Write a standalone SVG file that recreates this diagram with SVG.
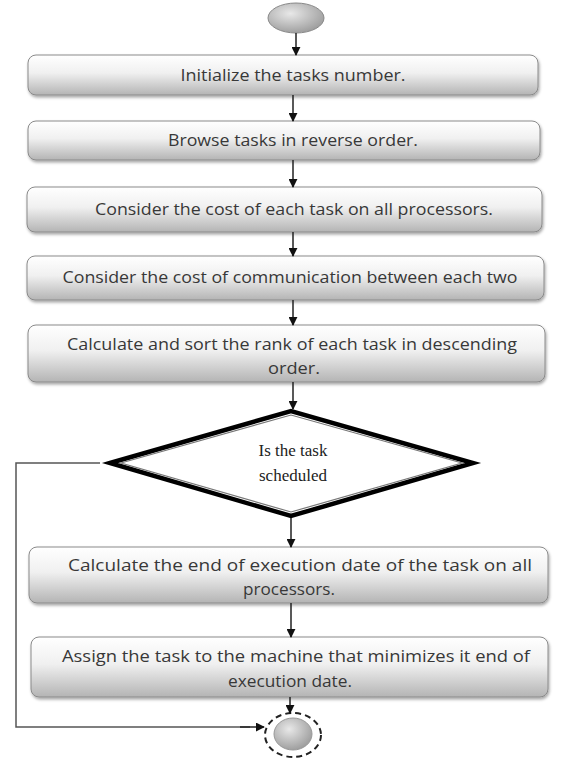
<svg xmlns="http://www.w3.org/2000/svg" width="571" height="758" viewBox="0 0 571 758">
<defs>
<linearGradient id="boxg" x1="0" y1="0" x2="0" y2="1">
<stop offset="0" stop-color="#ffffff"/>
<stop offset="0.45" stop-color="#f0f0f0"/>
<stop offset="1" stop-color="#b4b4b4"/>
</linearGradient>
<radialGradient id="ovalg" cx="0.4" cy="0.35" r="0.7">
<stop offset="0" stop-color="#e8e8e8"/>
<stop offset="1" stop-color="#9a9a9a"/>
</radialGradient>
<filter id="sh" x="-5%" y="-20%" width="110%" height="150%">
<feDropShadow dx="1" dy="2" stdDeviation="1.5" flood-color="#000" flood-opacity="0.35"/>
</filter>
<marker id="ah" viewBox="0 0 10 10" refX="9" refY="5" markerWidth="9" markerHeight="9" markerUnits="userSpaceOnUse" orient="auto">
<path d="M0,0 L10,5 L0,10 z" fill="#111"/>
</marker>
</defs>
<style>
.box{fill:url(#boxg);stroke:#8a8a8a;stroke-width:1;filter:url(#sh)}
.t{font-family:"Open Sans","DejaVu Sans",sans-serif;font-size:16px;fill:#383838;text-anchor:middle}
.d{font-family:"Liberation Serif","Times New Roman",serif;font-size:17px;fill:#222;text-anchor:middle}
.c{fill:none;stroke:#222;stroke-width:1.5;marker-end:url(#ah)}
.l{fill:none;stroke:#555;stroke-width:1.5}
</style>
<rect width="571" height="758" fill="#fff"/>

<g id="start">
<ellipse cx="296" cy="18" rx="28" ry="15" fill="url(#ovalg)" stroke="#888" stroke-width="1"/>
</g>

<g id="n1">
<rect class="box" x="28" y="55" width="510" height="40" rx="8"/>
<text class="t" x="293" y="81" textLength="225" lengthAdjust="spacingAndGlyphs">Initialize the tasks number.</text>
</g>
<g id="n2">
<rect class="box" x="28" y="121" width="512" height="39" rx="8"/>
<text class="t" x="293" y="146" textLength="250" lengthAdjust="spacingAndGlyphs">Browse tasks in reverse order.</text>
</g>
<g id="n3">
<rect class="box" x="27" y="187" width="515" height="45" rx="8"/>
<text class="t" x="294" y="215" textLength="398" lengthAdjust="spacingAndGlyphs">Consider the cost of each task on all processors.</text>
</g>
<g id="n4">
<rect class="box" x="27" y="256" width="517" height="44" rx="8"/>
<text class="t" x="290" y="283" textLength="455" lengthAdjust="spacingAndGlyphs">Consider the cost of communication between each two</text>
</g>
<g id="n5">
<rect class="box" x="28" y="325" width="517" height="57" rx="8"/>
<text class="t" x="292" y="350" textLength="450" lengthAdjust="spacingAndGlyphs">Calculate and sort the rank of each task in descending</text>
<text class="t" x="294" y="374" textLength="52" lengthAdjust="spacingAndGlyphs">order.</text>
</g>
<g id="decision">
<polygon points="110,463 291,411 473,463 291,516" fill="#fff" stroke="#000" stroke-width="4.5" stroke-linejoin="miter"/>
<polygon points="121,463 291,415 462,463 291,512" fill="none" stroke="#777" stroke-width="1.2"/>
<text class="d" x="293" y="456">Is the task</text>
<text class="d" x="293" y="481">scheduled</text>
</g>
<g id="n6">
<rect class="box" x="29" y="547" width="519" height="56" rx="8"/>
<text class="t" x="300" y="571" textLength="464" lengthAdjust="spacingAndGlyphs">Calculate the end of execution date of the task on all</text>
<text class="t" x="289" y="595" textLength="92" lengthAdjust="spacingAndGlyphs">processors.</text>
</g>
<g id="n7">
<rect class="box" x="31" y="637" width="517" height="60" rx="8"/>
<text class="t" x="296" y="662" textLength="468" lengthAdjust="spacingAndGlyphs">Assign the task to the machine that minimizes it end of</text>
<text class="t" x="290" y="687" textLength="124" lengthAdjust="spacingAndGlyphs">execution date.</text>
</g>
<g id="end">
<ellipse cx="293" cy="735" rx="28" ry="22" fill="#fff" stroke="#222" stroke-width="2" stroke-dasharray="6,4"/>
<ellipse cx="293" cy="734" rx="19" ry="16" fill="url(#ovalg)" stroke="#999" stroke-width="1"/>
</g>

<g id="connectors">
<path class="c" d="M296,33 V55"/>
<path class="c" d="M293,95 V121"/>
<path class="c" d="M293,160 V187"/>
<path class="c" d="M293,232 V256"/>
<path class="c" d="M293,300 V325"/>
<path class="c" d="M293,382 V409"/>
<path class="c" d="M291,518 V547"/>
<path class="c" d="M291,603 V637"/>
<path class="c" d="M290,697 V713"/>
<path class="l" d="M100,463 H16 V727 H250"/>
<path class="c" d="M240,727 H264"/>
</g>
</svg>
